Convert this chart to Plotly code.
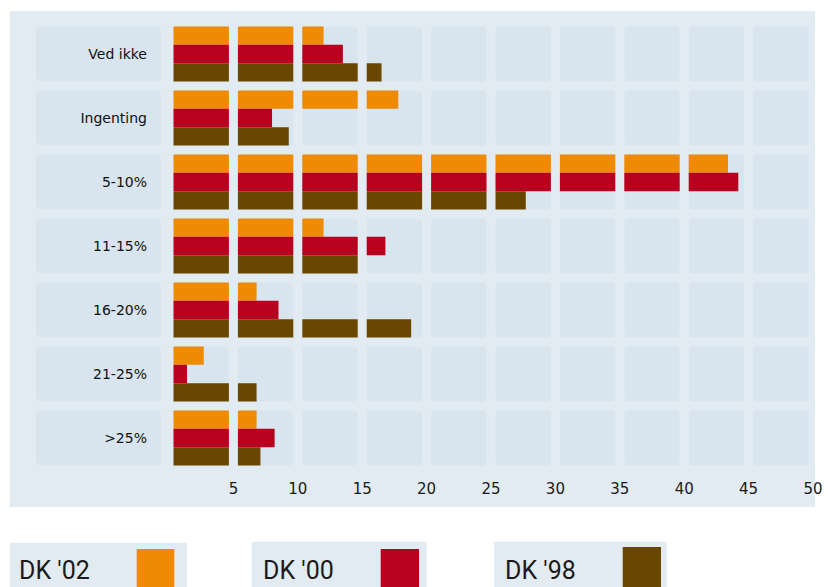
import plotly.graph_objects as go

# ---------------- data ----------------
categories = ["Ved ikke", "Ingenting", "5-10%", "11-15%", "16-20%", "21-25%", ">25%"]
series_names = ["DK '02", "DK '00", "DK '98"]
dk02 = [12.0, 17.8, 43.4, 12.0, 6.8, 2.7, 6.8]
dk00 = [13.5, 8.0, 44.2, 16.8, 8.5, 1.4, 8.2]
dk98 = [16.5, 9.3, 27.7, 15.0, 18.8, 6.8, 7.1]
x_ticks = [5, 10, 15, 20, 25, 30, 35, 40, 45, 50]

# ---------------- styles ----------------
colors = ["#ee8a04", "#b8001f", "#6a4700"]
PANEL = "#e2eaf2"
CELL = "#d8e4ee"
TXT = "#1a1a1a"

W, H = 828, 587
ML, MR, MT, MB = 169, 15, 22, 117
PW = W - ML - MR
PH = H - MT - MB
XMAX = 50
STEP = 5


def px_x(p):
    return (p - ML) / PW


def px_y(p):
    return (H - MB - p) / PH


def rounded_path(x0, x1, y0, y1, rx, ry):
    return (f"M {x0+rx},{y0} L {x1-rx},{y0} Q {x1},{y0} {x1},{y0+ry} "
            f"L {x1},{y1-ry} Q {x1},{y1} {x1-rx},{y1} L {x0+rx},{y1} "
            f"Q {x0},{y1} {x0},{y1-ry} L {x0},{y0+ry} Q {x0},{y0} {x0+rx},{y0} Z")


ypos = list(range(len(categories)))

fig = go.Figure()
for name, vals, col in zip(series_names, [dk02, dk00, dk98], colors):
    fig.add_trace(go.Bar(y=ypos, x=vals, orientation="h", name=name,
                         marker=dict(color=col, line=dict(width=0)),
                         showlegend=False, hoverinfo="x+name"))

shapes = []
# panel
shapes.append(dict(type="rect", xref="paper", yref="paper",
                   x0=px_x(10), x1=px_x(815), y0=px_y(507), y1=px_y(11),
                   fillcolor=PANEL, line=dict(width=0), layer="below"))

unit_px = PW / XMAX
ins = 4.5 / unit_px
rx = 5 / unit_px
ry = 5 / (PH / len(categories))
half = 0.43
for i in ypos:
    for k in range(XMAX // STEP):
        shapes.append(dict(type="path", xref="x", yref="y",
                           path=rounded_path(k * STEP + ins, k * STEP + STEP - ins,
                                             i - half, i + half, rx, ry),
                           fillcolor=CELL, line=dict(width=0), layer="below"))
    # label cell
    rxp = 5 / PW
    shapes.append(dict(type="path", xref="paper", yref="y",
                       path=rounded_path(px_x(36), px_x(161), i - half, i + half, rxp, ry),
                       fillcolor=CELL, line=dict(width=0), layer="below"))

# gaps that split bars into 5-unit blocks
for k in range(XMAX // STEP):
    shapes.append(dict(type="line", xref="x", yref="paper",
                       x0=k * STEP, x1=k * STEP, y0=0, y1=1,
                       line=dict(color=PANEL, width=9), layer="above"))

# custom legend
legend_boxes = [(10, 187, 542.7, 136.7, 174.3, 549, 17),
                (251.7, 426.7, 541.7, 380.7, 419, 549, 260.7),
                (494, 666.7, 541.7, 622.7, 661, 547, 503)]
annotations = []
for (bx0, bx1, by0, sx0, sx1, sy0, tx), name, col in zip(legend_boxes, series_names, colors):
    shapes.append(dict(type="rect", xref="paper", yref="paper",
                       x0=px_x(bx0), x1=px_x(bx1), y0=px_y(600), y1=px_y(by0),
                       fillcolor=PANEL, line=dict(width=0), layer="below"))
    shapes.append(dict(type="rect", xref="paper", yref="paper",
                       x0=px_x(sx0), x1=px_x(sx1), y0=px_y(600), y1=px_y(sy0),
                       fillcolor=col, line=dict(width=0), layer="above"))
    annotations.append(dict(text=name, xref="paper", yref="paper",
                            x=px_x(tx), y=px_y(570), xanchor="left", yanchor="middle",
                            showarrow=False, font=dict(family="Roboto", size=25, color=TXT)))

fig.update_layout(
    width=W, height=H,
    margin=dict(l=ML, r=MR, t=MT, b=MB, autoexpand=False),
    paper_bgcolor="white", plot_bgcolor="rgba(0,0,0,0)",
    barmode="group", bargap=0.14, bargroupgap=0,
    shapes=shapes, annotations=annotations,
    xaxis=dict(range=[0, XMAX], tickvals=x_ticks, showgrid=False, zeroline=False,
               showline=False, ticks="", ticklabelstandoff=8,
               tickfont=dict(family="DejaVu Sans", size=15, color=TXT)),
    yaxis=dict(range=[len(categories) - 0.5, -0.5], tickvals=ypos, ticktext=categories,
               showgrid=False, zeroline=False, showline=False, ticks="",
               ticklabelstandoff=21,
               tickfont=dict(family="DejaVu Sans", size=14, color="#111111")),
    showlegend=False,
)

fig.write_html("out.html")
